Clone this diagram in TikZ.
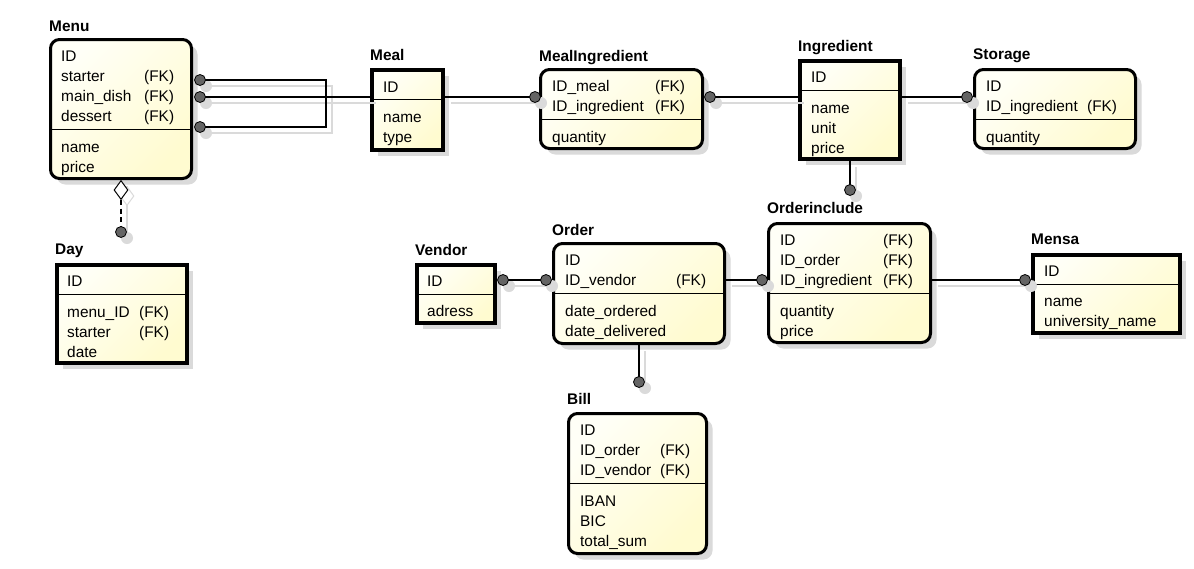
\documentclass[tikz,border=0pt]{standalone}
\usepackage{fontspec}
\setmainfont{Liberation Sans}
\usetikzlibrary{shapes.geometric,shadows}

\definecolor{ylwA}{RGB}{255,255,247}
\definecolor{ylwB}{RGB}{255,251,208}
\definecolor{shd}{RGB}{218,218,218}
\definecolor{dotc}{RGB}{100,100,100}

\newcommand\flds[2]{\begin{tabular}[t]{@{}p{#1}@{}l@{}}#2\end{tabular}}

\tikzset{
  ent/.style={draw=black, inner sep=0pt, top color=ylwA, bottom color=ylwB, shading angle=45,
    drop shadow={shadow xshift=6pt, shadow yshift=-6pt, fill=shd, opacity=1}},
  sqent/.style={ent, line width=4pt},
  rdent/.style={ent, line width=3pt, rounded corners=9pt},
  ttl/.style={anchor=base west, inner sep=0pt, font=\bfseries\fontsize{15.4}{20}\selectfont},
  fld/.style={anchor=base west, inner sep=0pt, font=\fontsize{15.4}{20}\selectfont},
  sepline/.style={line width=1pt, black},
  conn/.style={line width=1.2pt, black},
  dot/.style={circle, draw=black, line width=0.8pt, fill=dotc, minimum size=11pt, inner sep=0pt},
  shdot/.style={circle, fill=shd, minimum size=12pt, inner sep=0pt},
  agg/.style={diamond, draw=black, fill=white, line width=1pt, minimum width=14pt, minimum height=19pt, inner sep=0pt, anchor=north}
}

\begin{document}
\begin{tikzpicture}[x=1pt,y=-1pt]
\fill[white] (0,0) rectangle (1194,568);
\useasboundingbox (0,0) rectangle (1194,568);

% ---------- entity boxes ----------
\node[rdent, minimum width=141pt, minimum height=139pt] (menu) at (121,109) {};
\node[sqent, minimum width=71pt, minimum height=80pt] (meal) at (407.5,110) {};
\node[rdent, minimum width=162pt, minimum height=79pt] (mealing) at (621.5,109) {};
\node[sqent, minimum width=100pt, minimum height=98pt] (ingr) at (850,110) {};
\node[rdent, minimum width=161pt, minimum height=79pt] (storage) at (1055,109) {};
\node[sqent, minimum width=130pt, minimum height=98pt] (day) at (122,314) {};
\node[sqent, minimum width=78pt, minimum height=58pt] (vendor) at (456,294) {};
\node[rdent, minimum width=171pt, minimum height=100pt] (order) at (639,293.5) {};
\node[rdent, minimum width=162pt, minimum height=119pt] (orderinc) at (849.5,283) {};
\node[sqent, minimum width=147pt, minimum height=78pt] (mensa) at (1106.5,294) {};
\node[rdent, minimum width=138pt, minimum height=140pt] (bill) at (637.5,483.5) {};

% ---------- separators ----------
\draw[sepline] (50,129) -- (192,129);
\draw[sepline] (371,99) -- (444,99);
\draw[sepline] (540,119) -- (703,119);
\draw[sepline] (799,90) -- (901,90);
\draw[sepline] (974,119) -- (1136,119);
\draw[sepline] (56,294) -- (188,294);
\draw[sepline] (416,294) -- (496,294);
\draw[sepline] (553,293) -- (725,293);
\draw[sepline] (768,293) -- (931,293);
\draw[sepline] (1032,284) -- (1181,284);
\draw[sepline] (568,483) -- (707,483);

% ---------- titles ----------
\node[ttl] (menu-t) at (49,31.5) {Menu};
\node[ttl] (meal-t) at (370,60.5) {Meal};
\node[ttl] (mealing-t) at (539,61) {MealIngredient};
\node[ttl] (ingr-t) at (798,51) {Ingredient};
\node[ttl] (storage-t) at (973,59.5) {Storage};
\node[ttl] (day-t) at (55,254.5) {Day};
\node[ttl] (vendor-t) at (415,255) {Vendor};
\node[ttl] (order-t) at (552,235) {Order};
\node[ttl] (orderinc-t) at (767,213) {Orderinclude};
\node[ttl] (mensa-t) at (1031,244.5) {Mensa};
\node[ttl] (bill-t) at (567,404.5) {Bill};

% ---------- fields ----------
\node[fld] (menu-k) at (61,61.5) {\flds{83pt}{ID & \\ starter & (FK)\\ main\_dish & (FK)\\ dessert & (FK)}};
\node[fld] (menu-a) at (61,152) {\flds{60pt}{name & \\ price &}};
\node[fld] (meal-k) at (383,92) {\flds{40pt}{ID &}};
\node[fld] (meal-a) at (383,122.5) {\flds{40pt}{name & \\ type &}};
\node[fld] (mealing-k) at (552,91.5) {\flds{103pt}{ID\_meal & (FK)\\ ID\_ingredient & (FK)}};
\node[fld] (mealing-a) at (552,142) {\flds{60pt}{quantity &}};
\node[fld] (ingr-k) at (811,82.5) {\flds{40pt}{ID &}};
\node[fld] (ingr-a) at (811,113) {\flds{40pt}{name & \\ unit & \\ price &}};
\node[fld] (storage-k) at (986,91.5) {\flds{101pt}{ID & \\ ID\_ingredient & (FK)}};
\node[fld] (storage-a) at (986,142) {\flds{60pt}{quantity &}};
\node[fld] (day-k) at (67,286.5) {\flds{40pt}{ID &}};
\node[fld] (day-a) at (67,317) {\flds{72pt}{menu\_ID & (FK)\\ starter & (FK)\\ date &}};
\node[fld] (vendor-k) at (427,286.5) {\flds{40pt}{ID &}};
\node[fld] (vendor-a) at (427,316.5) {\flds{50pt}{adress &}};
\node[fld] (order-k) at (565,265.5) {\flds{111pt}{ID & \\ ID\_vendor & (FK)}};
\node[fld] (order-a) at (565,316) {\flds{120pt}{date\_ordered & \\ date\_delivered &}};
\node[fld] (orderinc-k) at (780,245.5) {\flds{103pt}{ID & (FK)\\ ID\_order & (FK)\\ ID\_ingredient & (FK)}};
\node[fld] (orderinc-a) at (780,316) {\flds{60pt}{quantity & \\ price &}};
\node[fld] (mensa-k) at (1044,276.5) {\flds{40pt}{ID &}};
\node[fld] (mensa-a) at (1044,306.5) {\flds{120pt}{name & \\ university\_name &}};
\node[fld] (bill-k) at (580,435.5) {\flds{80pt}{ID & \\ ID\_order & (FK)\\ ID\_vendor & (FK)}};
\node[fld] (bill-a) at (580,506) {\flds{80pt}{IBAN & \\ BIC & \\ total\_sum &}};

% ---------- connector end points ----------
\coordinate (pc1) at (200,80);
\coordinate (pc2) at (200,97);
\coordinate (pc3) at (200,127);
\coordinate (junc) at (326,97);
\coordinate (pm1) at (535,97);
\coordinate (pm2) at (710,97);
\coordinate (ps1) at (967,97);
\coordinate (poi1) at (850,190);
\coordinate (pv1) at (503,280);
\coordinate (po1) at (546,280);
\coordinate (poi2) at (762,280);
\coordinate (pme1) at (1025,280);
\coordinate (pb1) at (639,382);
\coordinate (pd1) at (121,232);

% ---------- connector shadows ----------
\begin{scope}[transform canvas={shift={(6,6)}}]
  \draw[conn, shd] (pc1) -| (junc);
  \draw[conn, shd] (pc3) -| (junc);
  \draw[conn, shd] (pc2) -- (pc2 -| meal.west);
  \draw[conn, shd] (meal.east |- pm1) -- (pm1);
  \draw[conn, shd] (pm2) -- (pm2 -| ingr.west);
  \draw[conn, shd] (ingr.east |- ps1) -- (ps1);
  \draw[conn, shd] (ingr.south) -- (poi1);
  \draw[conn, shd] (pv1) -- (po1);
  \draw[conn, shd] (order.east |- poi2) -- (poi2);
  \draw[conn, shd] (orderinc.east |- pme1) -- (pme1);
  \draw[conn, shd] (order.south) -- (pb1);
  \draw[conn, shd] (menu.south) -- (pd1);
  \node[agg, draw=shd] (dia-s) at (menu.south) {};
  \foreach \p in {pc1,pc2,pc3,pm1,pm2,ps1,poi1,pv1,po1,poi2,pme1,pb1,pd1}
    \node[shdot] (s-\p) at (\p) {};
\end{scope}

% ---------- connectors ----------
\draw[conn] (pc1) -| (junc);
\draw[conn] (pc3) -| (junc);
\draw[conn] (pc2) -- (pc2 -| meal.west);
\draw[conn] (meal.east |- pm1) -- (pm1);
\draw[conn] (pm2) -- (pm2 -| ingr.west);
\draw[conn] (ingr.east |- ps1) -- (ps1);
\draw[conn] (ingr.south) -- (poi1);
\draw[conn] (pv1) -- (po1);
\draw[conn] (order.east |- poi2) -- (poi2);
\draw[conn] (orderinc.east |- pme1) -- (pme1);
\draw[conn] (order.south) -- (pb1);
\node[agg] (dia) at (menu.south) {};
\draw[conn, dash pattern=on 5pt off 3.5pt] (dia.south) -- (pd1);

% ---------- end dots ----------
\foreach \p in {pc1,pc2,pc3,pm1,pm2,ps1,poi1,pv1,po1,poi2,pme1,pb1,pd1}
  \node[dot] (d-\p) at (\p) {};
\end{tikzpicture}
\end{document}
